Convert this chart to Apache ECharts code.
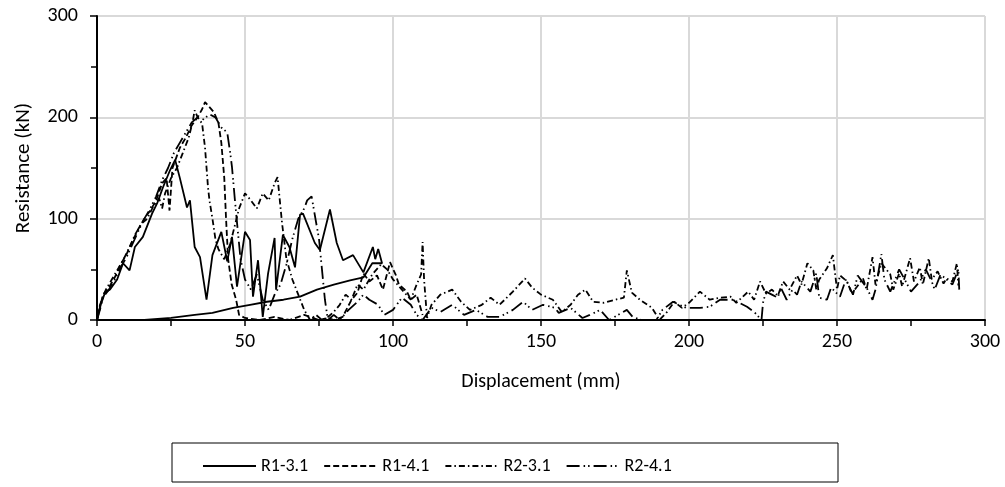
<!DOCTYPE html>
<html lang="en">
<head>
    <meta charset="UTF-8">
    <title>Resistance vs displacement</title>
    <script src="https://cdn.jsdelivr.net/npm/echarts@6/dist/echarts.min.js"></script>
    <style>
        body { margin: 0; background: #fff; }
    </style>
</head>
<body>
    <div id="main" style="width: 1005px;height:487px;"></div>
    <script type="text/javascript">
        // [displacement (mm), resistance (kN)]
        const r131 = [
            [0,0],[1,13],[2.7,27],[4.4,30],[6.8,40],[8.8,56],[11,49],[12.8,72],[15.5,82],[18.6,105],
            [20.3,115],[22.3,131],[24.7,148],[26.4,158],[28,140],[30.4,111],[31.4,118],[33,72],[34.8,62],
            [37,20],[39,64],[42,87],[44,58],[45.6,82],[47.3,33],[50,87],[51.7,79],[52.7,23],[54.4,59],
            [56,3],[57.8,46],[60,81],[60.5,30],[62.8,84],[65,72],[66.9,52],[68.6,104],[69.6,105],
            [73.6,76],[75.3,69],[78.7,109],[81,76],[83.1,59],[86.5,64],[90,47],[93.2,72],[94,60],
            [95,70],[96.3,56],[93,56],[90,42],[85.5,39],[80,35],[74.3,30],[68.6,23],[63,20],[57.4,18],
            [51.7,15],[46,12],[39,7],[33,5],[25,2],[16,0]
        ];
        const r141 = [
            [0,0],[1,12],[2,25],[4,32],[6,42],[8,55],[10,65],[12,78],[14,90],[16,100],[18,108],
            [20,118],[22,135],[23.5,140],[24.5,108],[25.5,150],[28,170],[30,180],[32,192],[34,200],
            [35.5,208],[36.5,215],[38,210],[39.5,205],[41,195],[42,175],[43,140],[43.6,100],[44.3,60],
            [45.5,35],[47,20],[48,5],[50,2],[55,0],[60,3],[65,0],[70,5],[75,0],[78,2],[80,0],[83,3],
            [86,20],[88,27],[90,46],[92,38],[94.6,44],[96.6,30],[99,57],[101,44],[102,35],[104.7,28],
            [106,20],[108,25],[110,5]
        ];
        const r231 = [
            [0,0],[1,15],[3,30],[5,40],[7,50],[9,60],[11,72],[13,85],[15,95],[17,100],[19,112],
            [21,120],[22,110],[23,125],[25,140],[27,150],[29,165],[31,180],[32.4,197],[33,207],
            [34,200],[35.5,194],[36.5,170],[37.5,131],[38,118],[39,100],[40,80],[41,70],[43,60],
            [45,75],[48,110],[50,125],[52,118],[54,110],[56,125],[58,118],[60,135],[61,141],[62.5,96],
            [64,60],[66,40],[68,25],[70,10],[72,0],[74,5],[76,0],[78,3],[80,8],[82,15],[84,25],[86,20],
            [88,35],[90,30],[93,45],[96,55],[98,50],[100,40],[103,30],[106,20],[108,35],[109.5,45],
            [110,77],[110.5,40],[111.5,2],[113,15],[116,25],[120,30],[123,18],[126,10],[130,15],
            [133,22],[136,15],[140.5,28],[144.6,41],[147,32],[150,25],[154,20],[157,8],[160,15],
            [162.5,25],[165,30],[167.6,18],[171,17],[175,20],[178,22],[179,49],[180.7,27],[183.4,20],
            [187.5,12],[190,0],[192.6,8],[195,18],[197.6,12],[200,17],[203.7,28],[207,20],[210.5,22],
            [214,23],[216,17],[220,28],[222,20],[224,38],[226,26],[228,30],[230,24],[231.8,38],[234,30],
            [236.5,44],[238,35],[240,56],[242,49],[243,30],[244,40],[246.6,51],[248.6,64],[250,30],
            [251,44],[253.4,38],[255,26],[256.8,33],[258.8,41],[260,30],[262,62],[263,35],[265,56],
            [268,45],[269,30],[271,46],[272,33],[274.7,61],[276,38],[278,52],[279,35],[281,61],[282,40],
            [284,48],[286,36],[287,41],[289,38],[290.5,56],[291,34]
        ];
        const r241 = [
            [0,0],[1,10],[2,22],[4,30],[6,40],[8,52],[10,62],[12,75],[14,88],[16,100],[18,110],
            [20,122],[22,138],[24,150],[26,165],[28,175],[30,185],[32,195],[34,200],[36,198],[38,203],
            [40,200],[42,190],[44,185],[45,165],[45.6,151],[46,138],[46.6,118],[47.5,90],[48.5,60],
            [50,40],[52,30],[54,45],[56,20],[58,10],[60,25],[62,35],[64,55],[66,80],[68,100],[70,110],
            [71,118],[72.5,122],[73.5,105],[75,80],[76,50],[77,20],[78,0],[80,5],[82,0],[85,10],
            [88,18],[90,25],[92,20],[95,15],[97,5],[100,10],[103,22],[106,15],[108,5],[110,0],
            [113,12],[116,8],[120,15],[124,5],[128,10],[132,3],[136,3],[140.5,10],[144,18],[147,10],
            [150.7,15],[154.7,12],[156,7],[160,12],[164,2],[166.5,5],[170,10],[173,0],[176,5],[179,10],
            [181,3],[184,0],[189,0],[191,10],[194.6,18],[199,12],[203.7,12],[207,13],[210.5,20],
            [215,20],[219.6,13],[222,8],[224.5,0],[225,17],[226,28],[228,25],[230,22],[231,32],[233,20],
            [235,30],[236.5,25],[238,38],[241,28],[243,46],[244,22],[246.6,20],[248,32],[251,23],
            [253,40],[255.4,25],[257,44],[260,32],[262,20],[263,30],[265,65],[266,40],[268,28],[269,35],
            [271,50],[273.6,36],[275,28],[278,38],[280,50],[282,38],[283,30],[285,45],[287,40],[289,35],
            [291,50],[291.3,30]
        ];
        const seriesNames = ['R1-3.1', 'R1-4.1', 'R2-3.1', 'R2-4.1'];
        const seriesData = [r131, r141, r231, r241];
        const dashes = ['solid', [6, 3], [6, 3, 1.5, 3], [13, 4, 1.5, 3, 1.5, 4]];

        const font = 'Carlito, Lato, sans-serif';
        let myChart = echarts.init(document.getElementById('main'));

        let options = {
            animation: false,
            textStyle: { fontFamily: font },
            grid: { left: 97, right: 20, top: 16, bottom: 167 },
            graphic: [{
                type: 'rect',
                shape: { x: 172, y: 443, width: 666, height: 39 },
                style: { fill: 'none', stroke: '#000', lineWidth: 1 }
            }],
            legend: {
                left: 197, top: 452,
                itemWidth: 53, itemHeight: 14, itemGap: 15,
                itemStyle: { opacity: 0 },
                textStyle: { fontFamily: font, fontSize: 18, color: '#000' },
                data: seriesNames
            },
            xAxis: {
                type: 'value', min: 0, max: 300, interval: 50,
                name: 'Displacement (mm)', nameLocation: 'middle', nameGap: 52,
                nameTextStyle: { fontFamily: font, fontSize: 20, color: '#000' },
                axisLine: { lineStyle: { color: '#000', width: 2 } },
                axisTick: { show: true, length: 6, lineStyle: { color: '#000', width: 1.5 } },
                minorTick: { show: true, splitNumber: 2, length: 6, lineStyle: { color: '#000', width: 1.5 } },
                axisLabel: { fontFamily: font, fontSize: 20, color: '#000', margin: 12 },
                splitLine: { show: true, lineStyle: { color: '#d9d9d9', width: 2 } }
            },
            yAxis: {
                type: 'value', min: 0, max: 300, interval: 100,
                name: 'Resistance (kN)', nameLocation: 'middle', nameGap: 63, nameRotate: 90,
                nameTextStyle: { fontFamily: font, fontSize: 21, color: '#000' },
                axisLine: { show: true, lineStyle: { color: '#000', width: 2 } },
                axisTick: { show: true, length: 7, lineStyle: { color: '#000', width: 1.5 } },
                minorTick: { show: true, splitNumber: 2, length: 6, lineStyle: { color: '#000', width: 1.5 } },
                axisLabel: { fontFamily: font, fontSize: 20, color: '#000', margin: 19 },
                splitLine: { show: true, lineStyle: { color: '#d9d9d9', width: 2 } }
            },
            series: seriesNames.map((name, i) => ({
                name: name,
                type: 'line',
                data: seriesData[i],
                symbol: 'none',
                lineStyle: { color: '#000', width: 1.8, type: dashes[i] },
                itemStyle: { color: '#000' }
            }))
        };

        myChart.setOption(options);
    </script>
</body>
</html>
